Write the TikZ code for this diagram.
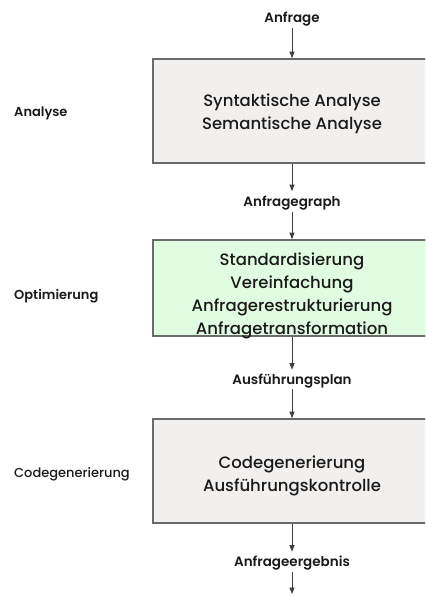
\documentclass[tikz,border=0pt]{standalone}
\usepackage{fontspec}
\setmainfont{Poppins}[UprightFont={* Medium}, BoldFont={* SemiBold}]
\usetikzlibrary{arrows.meta}
\definecolor{boxgray}{HTML}{F2F0EF}
\definecolor{boxgreen}{HTML}{E1FDE1}
\definecolor{edgegray}{HTML}{6A6A6A}
\definecolor{ink}{HTML}{1A1A1A}
\definecolor{linegray}{HTML}{404040}
\tikzset{
  stagebox/.style={draw=edgegray, line width=1.6pt, minimum width=278pt, minimum height=104pt, inner sep=0pt},
  stagetext/.style={align=center, inner sep=0pt, text=ink, font=\fontsize{16.5}{23}\selectfont},
  flowlabel/.style={inner sep=0pt, text=ink, font=\fontsize{13.5}{14}\selectfont\bfseries},
  phase/.style={anchor=west, inner sep=0pt, text=ink, font=\fontsize{13}{14}\selectfont},
  phasebold/.style={phase, font=\fontsize{13}{14}\selectfont\bfseries},
  flow/.style={draw=linegray, line width=0.9pt, -{Triangle[length=6.5pt,width=5pt]}},
}
\begin{document}
\begin{tikzpicture}[x=1pt,y=-1pt]
\useasboundingbox (0,0) rectangle (425,596);
\begin{scope}
\clip (0,0) rectangle (425,596);
% processing stages (they run past the right edge)
\node[stagebox, fill=boxgray] (syn) at (292,111) {};
\node[stagebox, fill=boxgreen, minimum height=96pt] (opt) at (292,288) {};
\node[stagebox, fill=boxgray] (gen) at (292,471) {};
\end{scope}
\node[stagetext] (syntxt) at (292,113.5) {Syntaktische Analyse\\Semantische Analyse};
\node[stagetext] (opttxt) at (292,296)
  {Standardisierung\\Vereinfachung\\Anfragerestrukturierung\\Anfragetransformation};
\node[stagetext] (gentxt) at (292,476) {Codegenerierung\\Ausführungskontrolle};
% data passed between stages
\node[flowlabel] (q) at (292,19.5) {Anfrage};
\node[flowlabel] (qg) at (292,203.5) {Anfragegraph};
\node[flowlabel] (plan) at (292,381) {Ausführungsplan};
\node[flowlabel] (res) at (292,563) {Anfrageergebnis};
\coordinate (out) at (292,594);
% phase names
\node[phasebold] (pa) at (14,113.5) {Analyse};
\node[phasebold] (po) at (14,296) {Optimierung};
\node[phase] (pc) at (14,474.5) {Codegenerierung};
% connectors
\draw[flow, shorten <=1pt] (q) -- (syn);
\draw[flow, shorten >=5pt] (syn) -- (qg);
\draw[flow, shorten <=1.5pt] (qg) -- (opt);
\draw[flow, shorten >=4pt] (opt) -- (plan);
\draw[flow, shorten <=1pt] (plan) -- (gen);
\draw[flow, shorten >=4pt] (gen) -- (res);
\draw[flow, shorten <=1.5pt] (res) -- (out);
\end{tikzpicture}
\end{document}
